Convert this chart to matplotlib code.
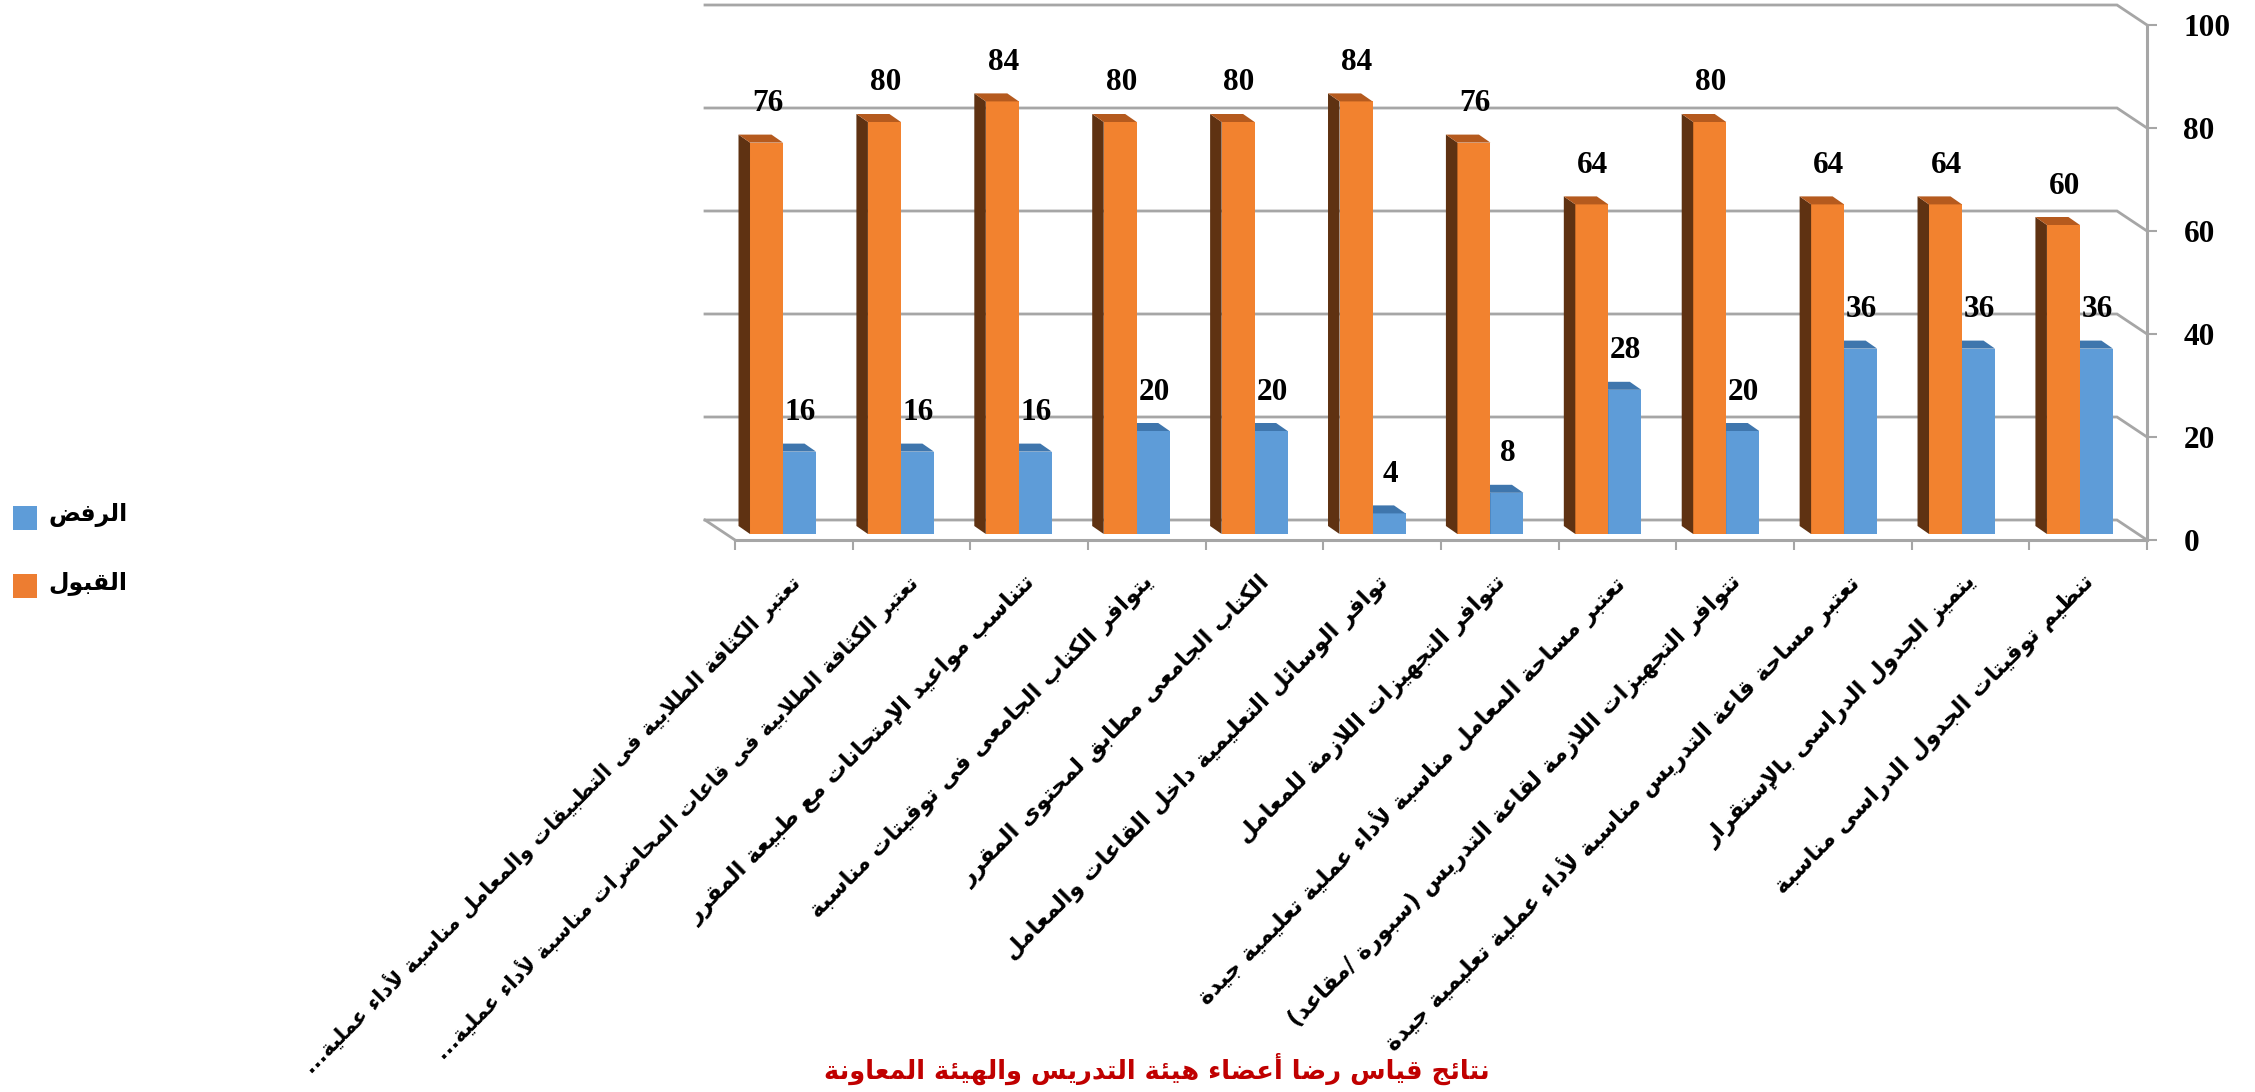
#!/usr/bin/env python3
import matplotlib

matplotlib.use("Agg")
import matplotlib.pyplot as plt
from matplotlib.patches import Rectangle

W, H = 2255, 1092

categories = [
    "تعتبر الكثافة الطلابية فى التطبيقات والمعامل مناسبة لأداء عملية...",
    "تعتبر الكثافة الطلابية فى قاعات المحاضرات مناسبة لأداء عملية...",
    "تتناسب مواعيد الإمتحانات مع طبيعة المقرر",
    "يتوافر الكتاب الجامعى فى توقيتات مناسبة",
    "الكتاب الجامعى مطابق لمحتوى المقرر",
    "توافر الوسائل التعليمية داخل القاعات والمعامل",
    "تتوافر التجهيزات اللازمة للمعامل",
    "تعتبر مساحة المعامل مناسبة لأداء عملية تعليمية جيدة",
    "تتوافر التجهيزات اللازمة لقاعة التدريس (سبورة /مقاعد)",
    "تعتبر مساحة قاعة التدريس مناسبة لأداء عملية تعليمية جيدة",
    "يتميز الجدول الدراسى بالإستقرار",
    "تنظيم توقيتات الجدول الدراسى مناسبة",
]
accept = [76, 80, 84, 80, 80, 84, 76, 64, 80, 64, 64, 60]
reject = [16, 16, 16, 20, 20, 4, 8, 28, 20, 36, 36, 36]
y_ticks = [0, 20, 40, 60, 80, 100]
accept_name = "القبول"
reject_name = "الرفض"
title = "نتائج قياس رضا أعضاء هيئة التدريس والهيئة المعاونة"

ORANGE = ("#F2822F", "#5F3212", "#B55A1E")
BLUE = ("#5E9CD8", "#3A6EA5", "#3F76AD")
GRID = "#A6A6A6"
SERIF = "Liberation Serif"

# presentation form base code points, 4 forms unless listed in NO_LEFT
FORMS = {
    "ء": 0xFE80, "آ": 0xFE81, "أ": 0xFE83, "ؤ": 0xFE85, "إ": 0xFE87, "ئ": 0xFE89,
    "ا": 0xFE8D, "ب": 0xFE8F, "ة": 0xFE93, "ت": 0xFE95, "ث": 0xFE99, "ج": 0xFE9D,
    "ح": 0xFEA1, "خ": 0xFEA5, "د": 0xFEA9, "ذ": 0xFEAB, "ر": 0xFEAD, "ز": 0xFEAF,
    "س": 0xFEB1, "ش": 0xFEB5, "ص": 0xFEB9, "ض": 0xFEBD, "ط": 0xFEC1, "ظ": 0xFEC5,
    "ع": 0xFEC9, "غ": 0xFECD, "ف": 0xFED1, "ق": 0xFED5, "ك": 0xFED9, "ل": 0xFEDD,
    "م": 0xFEE1, "ن": 0xFEE5, "ه": 0xFEE9, "و": 0xFEED, "ى": 0xFEEF, "ي": 0xFEF1,
}
NO_LEFT = set("ءآأؤإاةدذرزوى")
LAM_ALEF = {"آ": 0xFEF5, "أ": 0xFEF7, "إ": 0xFEF9, "ا": 0xFEFB}
MIRROR = str.maketrans("()", ")(")


def shape(text):
    # matplotlib has no Arabic shaping, so join the letters and reverse by hand
    out = []
    i = 0
    prev_joins = False
    while i < len(text):
        c = text[i]
        if c not in FORMS:
            out.append(c)
            prev_joins = False
            i += 1
            continue
        if c == "ل" and i + 1 < len(text) and text[i + 1] in LAM_ALEF:
            out.append(chr(LAM_ALEF[text[i + 1]] + (1 if prev_joins else 0)))
            prev_joins = False
            i += 2
            continue
        nxt = text[i + 1] if i + 1 < len(text) else ""
        joins_next = c not in NO_LEFT and nxt in FORMS and nxt != "ء"
        if prev_joins and joins_next:
            form = 3
        elif joins_next:
            form = 2
        elif prev_joins:
            form = 1
        else:
            form = 0
        out.append(chr(FORMS[c] + form))
        prev_joins = joins_next
        i += 1
    return "".join(reversed(out)).translate(MIRROR)


fig = plt.figure(figsize=(W / 100, H / 100), dpi=100, facecolor="white")
ax = fig.add_axes([735 / W, 1 - 540 / H, (2147 - 735) / W, (540 - 25) / H])
ax.set_xlim(0, 12)
ax.set_ylim(0, 100)
ax.patch.set_visible(False)

px_x = 12 / (2147 - 735)
px_y = 100 / (540 - 25)

# back wall grid with the diagonal run to the front axis
wall_dx, wall_dy = 30 * px_x, 20 * px_y
for v in y_ticks:
    ax.plot([-wall_dx, 12 - wall_dx, 12], [v + wall_dy, v + wall_dy, v],
            color=GRID, lw=2.0, zorder=1, clip_on=False, solid_joinstyle="miter")
ax.plot([-wall_dx, 0], [wall_dy, 0], color=GRID, lw=2.0, zorder=1, clip_on=False)

# axes
for side in ("top", "left"):
    ax.spines[side].set_visible(False)
for side in ("right", "bottom"):
    ax.spines[side].set_color(GRID)
    ax.spines[side].set_linewidth(2.2)
ax.yaxis.tick_right()
ax.set_yticks(y_ticks)
ax.set_yticklabels([str(v) for v in y_ticks], fontsize=22.5, fontweight="bold", family=SERIF)
ax.set_xticks(range(13))
ax.set_xticklabels([])
ax.tick_params(axis="y", length=7.2, width=1.5, color=GRID, pad=19)
ax.tick_params(axis="x", length=7.2, width=1.5, color=GRID)

# bars: front face plus the side and top faces
bar_w = 33 * px_x
depth_x, depth_y = 11.5 * px_x, 8 * px_y
base = 6 * px_y
xs = [0.1275 + 1.002 * i for i in range(len(categories))]


def draw_series(lefts, values, colors, zorder):
    front, side, top = colors
    ax.bar(lefts, values, width=bar_w, bottom=base, align="edge", color=front, zorder=zorder)
    for x0, v in zip(lefts, values):
        y1 = base + v
        ax.fill([x0, x0 - depth_x, x0 - depth_x, x0],
                [base, base + depth_y, y1 + depth_y, y1], color=side, lw=0, zorder=zorder)
        ax.fill([x0, x0 - depth_x, x0 + bar_w - depth_x, x0 + bar_w],
                [y1, y1 + depth_y, y1 + depth_y, y1], color=top, lw=0, zorder=zorder)
        ax.text(x0 + bar_w / 2 + 1 * px_x, y1 + 39 * px_y, str(v), ha="center", va="center",
                fontsize=22.5, fontweight="bold", family=SERIF, zorder=6)


draw_series([x + bar_w for x in xs], reject, BLUE, 2)
draw_series(xs, accept, ORANGE, 3)

# rotated category labels, the two truncated ones are the longest and need a smaller size
for i, name in enumerate(categories):
    ax.annotate(shape(name), xy=(i + 0.5, 0), xycoords="data", xytext=(2, -28),
                textcoords="offset points", rotation=45, rotation_mode="anchor",
                ha="right", va="center", fontsize=15.2 if name.endswith("...") else 16.5,
                fontweight="bold", family="DejaVu Sans", annotation_clip=False)

fig.text(1157 / W, 1 - 1069 / H, shape(title), ha="center", va="center",
         color="#C00000", fontsize=18.5, fontweight="bold", family="DejaVu Sans")

# legend
for top_y, color, name in ((506, BLUE[0], reject_name), (574, "#ED7D31", accept_name)):
    fig.patches.append(Rectangle((13 / W, 1 - (top_y + 24) / H), 24 / W, 24 / H,
                                 transform=fig.transFigure, color=color, lw=0))
    fig.text(48 / W, 1 - (top_y + 9) / H, shape(name), ha="left", va="center",
             fontsize=17, fontweight="bold", family="DejaVu Sans")

fig.savefig("out.png", dpi=100)
